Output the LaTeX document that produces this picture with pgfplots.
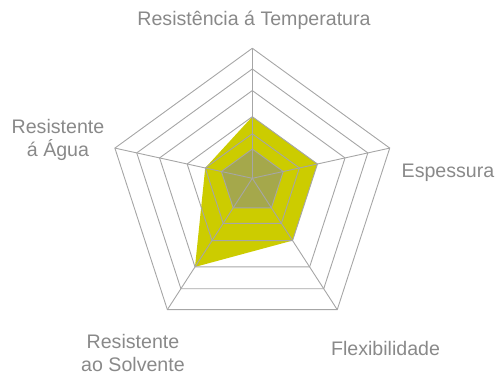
\documentclass[border=0pt]{standalone}
\usepackage{fontspec}
\setmainfont{Liberation Sans}
\usepackage{pgfplots}
\usepackage{pgfplotstable}
\pgfplotsset{compat=1.18}
\definecolor{fillY}{HTML}{CCCC00}
\definecolor{fillG}{HTML}{A5A84B}
\definecolor{gridc}{HTML}{A6A6A6}
\definecolor{txt}{HTML}{898989}

% angle (deg, clockwise from top) and radius
\pgfplotstableread{
a r
0   68.5
72  68.5
144 68.5
216 97.5
288 49.5
360 68.5
}\serieA
\pgfplotstableread{
a r
0   32.5
72  32.5
144 32.5
216 32.5
288 32.5
360 32.5
}\serieB
\pgfplotstableread{
a k
0   1
72  1
144 1
216 1
288 1
360 1
}\angles
\pgfplotstableread{
r k
0     1
144.5 1
}\spoke

\pgfplotsset{table/radar/.style={
  x expr={\thisrow{r}*sin(\thisrow{a})},
  y expr={\thisrow{r}*(cos(\thisrow{a})-0.1)}}}

\begin{document}
\begin{tikzpicture}[font=\fontsize{19.6}{23.5}\selectfont]
\begin{axis}[
  x=1pt, y=1pt, hide axis, clip=false,
  xmin=-252.3, xmax=244.7, ymin=-197.7, ymax=178.3,
]
\addplot[draw=none, fill=fillY] table[radar] \serieA;
\addplot[draw=none, fill=fillG] table[radar] \serieB;
% grid rings
\pgfplotsinvokeforeach{32.5,49.5,68.5,97.5,121.5,144.5}{
  \addplot[gridc, line width=0.9pt] table[
    x expr={#1*sin(\thisrow{a})},
    y expr={#1*(cos(\thisrow{a})-0.1)}] \angles;
}
% spokes
\pgfplotsinvokeforeach{0,72,144,216,288}{
  \addplot[gridc, line width=0.9pt] table[
    x expr={\thisrow{r}*sin(#1)},
    y expr={\thisrow{r}*(cos(#1)-0.1)}] \spoke;
}
\node[txt] at (axis cs:1.7,158.3) {Resistência á Temperatura};
\node[txt] at (axis cs:195.7,5.3) {Espessura};
\node[txt] at (axis cs:133.2,-169.7) {Flexibilidade};
\node[txt, align=center] at (axis cs:-119.3,-174.7) {Resistente\\ao Solvente};
\node[txt, align=center] at (axis cs:-194.3,38.3) {Resistente\\á Água};
\coordinate (bl) at (axis cs:-252.3,-197.7);
\coordinate (tr) at (axis cs:244.7,178.3);
\end{axis}
\pgfresetboundingbox
\path[use as bounding box] (bl) rectangle (tr);
\end{tikzpicture}
\end{document}
